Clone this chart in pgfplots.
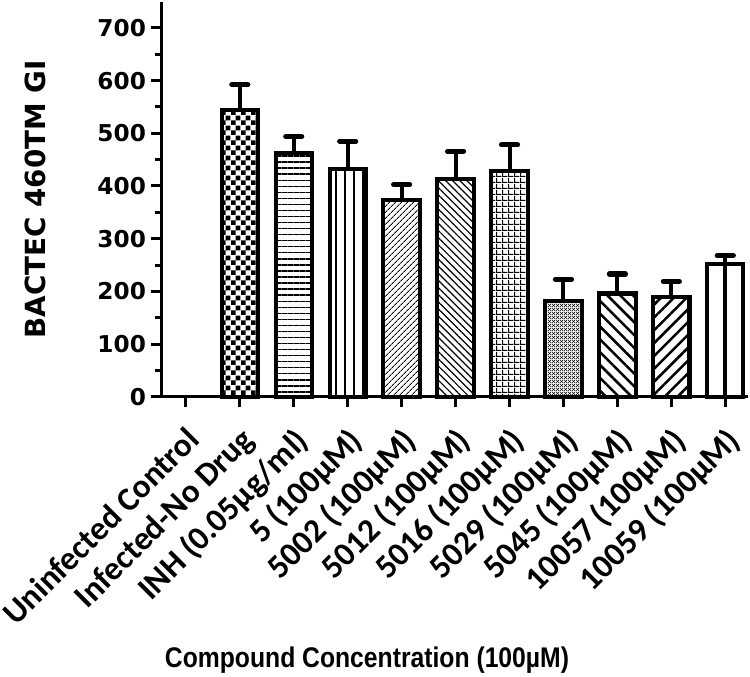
\documentclass[border=0pt]{standalone}
\usepackage{pgfplots}
\pgfplotsset{compat=1.18}
\usepackage{fontspec}
\setmainfont{Liberation Sans}
\newfontfamily\dvs{DejaVu Sans}
\newfontfamily\carl{Carlito}
\usetikzlibrary{patterns,patterns.meta}

\tikzdeclarepattern{name=bigchecker, type=uncolored,
  bounding box={(0,0) and (10pt,10pt)}, tile size={(10pt,10pt)},
  code={\fill (0,0) rectangle (5pt,5pt); \fill (5pt,5pt) rectangle (10pt,10pt);}}
\tikzdeclarepattern{name=mygrid, type=uncolored,
  bounding box={(0,0) and (6pt,6pt)}, tile size={(6pt,6pt)},
  code={\fill (0,0) rectangle (6pt,1.3pt); \fill (0,0) rectangle (1.3pt,6pt);}}
\tikzdeclarepattern{name=finecross, type=uncolored,
  bounding box={(0,0) and (4pt,4pt)}, tile size={(4pt,4pt)},
  code={\draw[line width=0.7pt] (0,0)--(4pt,4pt); \draw[line width=0.7pt] (0,4pt)--(4pt,0);}}

\pgfplotsset{
  mybar/.style={ybar, bar width=36pt, bar shift=0pt, draw=black, fill=white,
    line width=4pt, pattern color=black,
    error bars/y dir=plus, error bars/y explicit,
    error bars/error bar style={line width=4pt, black},
    error bars/error mark options={rotate=90, mark size=8pt, line width=5pt, line cap=round, black}},
}

\begin{document}
\begin{tikzpicture}
\begin{axis}[
  scale only axis, width=582pt, height=392pt,
  xmin=-0.45, xmax=10.43, ymin=0, ymax=750,
  axis x line=bottom, axis y line=left,
  axis line style={-, line width=3pt},
  tick style={line width=3pt, black},
  tick align=outside,
  major tick length=10pt, minor tick length=7pt,
  xtick={0,...,10},
  xticklabels={Uninfected Control, Infected-No Drug, INH (0.05µg/ml), 5 (100µM),
    5002 (100µM), 5012 (100µM), 5016 (100µM), 5029 (100µM), 5045 (100µM),
    10057 (100µM), 10059 (100µM)},
  ytick={0,100,...,700}, minor ytick={50,150,...,650},
  /pgf/number format/assume math mode=true,
  yticklabel style={font=\dvs\bfseries\fontsize{23}{24}\selectfont, xshift=-2pt},
  xticklabel style={font=\carl\bfseries\fontsize{33}{33}\selectfont,
    xshift=-1pt, yshift=-18pt, rotate=45, anchor=north east, inner sep=0pt},
  ylabel={BACTEC 460TM GI},
  ylabel style={font=\dvs\bfseries\fontsize{27.5}{28}\selectfont,
    at={(axis description cs:-0.2156,0.5)}, anchor=center},
  xlabel={\scalebox{1}[1.15]{Compound Concentration (100µM)}},
  xlabel style={font=\bfseries\fontsize{24.5}{25}\selectfont,
    at={(axis description cs:0.35,0)}, anchor=base, yshift=-268pt},
  clip=false,
]
\addplot[ybar, bar width=36pt, bar shift=0pt, draw=none, fill=none] coordinates {(0,0)};
\addplot[mybar, pattern=bigchecker] coordinates {(1,545) +- (0,47)};
\addplot[mybar, pattern={Lines[angle=0, distance=6pt, line width=1.3pt]}] coordinates {(2,462) +- (0,32)};
\addplot[mybar, pattern={Lines[angle=90, distance=9pt, line width=1.6pt]}] coordinates {(3,433) +- (0,52)};
\addplot[mybar, pattern={Lines[angle=45, distance=4pt, line width=1pt]}] coordinates {(4,373) +- (0,30)};
\addplot[mybar, pattern={Lines[angle=-45, distance=5pt, line width=1.2pt]}] coordinates {(5,414) +- (0,52)};
\addplot[mybar, pattern=mygrid] coordinates {(6,428) +- (0,50)};
\addplot[mybar, pattern=finecross] coordinates {(7,182) +- (0,41)};
\addplot[mybar, pattern={Lines[angle=-45, distance=9pt, line width=2.5pt]}] coordinates {(8,196) +- (0,37)};
\addplot[mybar, pattern={Lines[angle=45, distance=9pt, line width=2.5pt]}] coordinates {(9,189) +- (0,30)};
\addplot[mybar] coordinates {(10,252) +- (0,16)};
\addplot[ybar, bar width=0pt, bar shift=0pt, draw=black, line width=4pt] coordinates {(10,252)};
\end{axis}
\end{tikzpicture}
\end{document}
